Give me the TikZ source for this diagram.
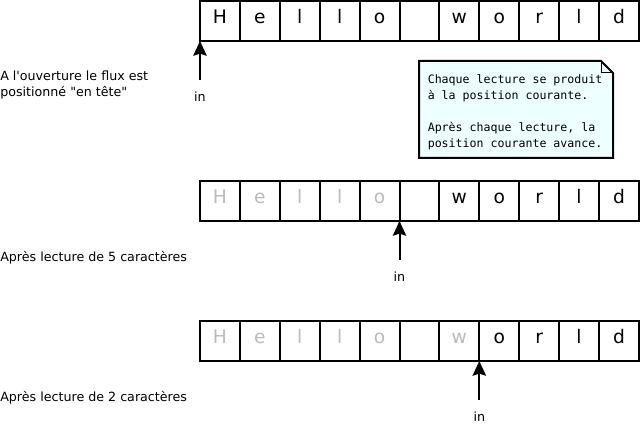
\documentclass[tikz,border=0pt]{standalone}
\usepackage{fontspec}
\setmainfont{DejaVu Sans}[Ligatures=TeXOff]
\newfontfamily\notefont{DejaVu Sans Mono}
\usetikzlibrary{positioning,arrows.meta}
\definecolor{readgray}{HTML}{BBBBBB}
\definecolor{notefill}{HTML}{EEFFFF}

\begin{document}
\begin{tikzpicture}[x=0.75pt, y=-0.75pt,
    cell/.style={draw, line width=1.5pt, minimum width=29.925pt, minimum height=30pt, inner sep=0pt, outer sep=0pt,
        font=\fontsize{14pt}{14pt}\selectfont, text height=10pt, text depth=6.25pt},
    txt/.style={font=\fontsize{9.5pt}{12pt}\selectfont, inner sep=0pt, align=left},
    pointer/.style={-{Stealth[length=11pt, width=10pt, inset=1.5pt]}, line width=1.5pt}]
    \useasboundingbox (0,0) rectangle (640,428);

    % Stream contents, one row per state
    \foreach \row/\top/\done in {1/1/0, 2/181/5, 3/321/7} {
        \foreach \ch [count=\i from 0] in {H,e,l,l,o,{},w,o,r,l,d} {
            \pgfmathtruncatemacro\mix{100*(\i<\done)}
            \node [cell, text=readgray!\mix!black] (cell-\row-\i) at (219.95+39.9*\i, \top+20) {\ch};
        }
        % Current position
        \coordinate (tail\row) at (200+39.9*\done, \top+79);
        \draw [pointer] (tail\row) -- (cell-\row-\done.south west);
        \node [txt, below=9pt of tail\row] (in\row) {in};
    }

    % Captions
    \node [txt, anchor=west] (opening) at (0,85) {A l'ouverture le flux est\\positionné "en tête"};
    \node [txt, anchor=west] (after5) at (0,258) {Après lecture de 5 caractères};
    \node [txt, anchor=west] (after2) at (0,398) {Après lecture de 2 caractères};

    % Note
    \draw [line width=1.5pt, fill=notefill] (419,61) -- (601,61) -- (613,73) -- (613,158) -- (419,158) -- cycle;
    \draw [line width=0.75pt] (601,61) |- (613,73);
    \node [anchor=north west, inner sep=0pt, align=left, font=\notefont\fontsize{8.7pt}{12pt}\selectfont] (note) at (427.5,74)
        {Chaque lecture se produit\\à la position courante.\\[12pt]Après chaque lecture, la\\position courante avance.};
\end{tikzpicture}
\end{document}
